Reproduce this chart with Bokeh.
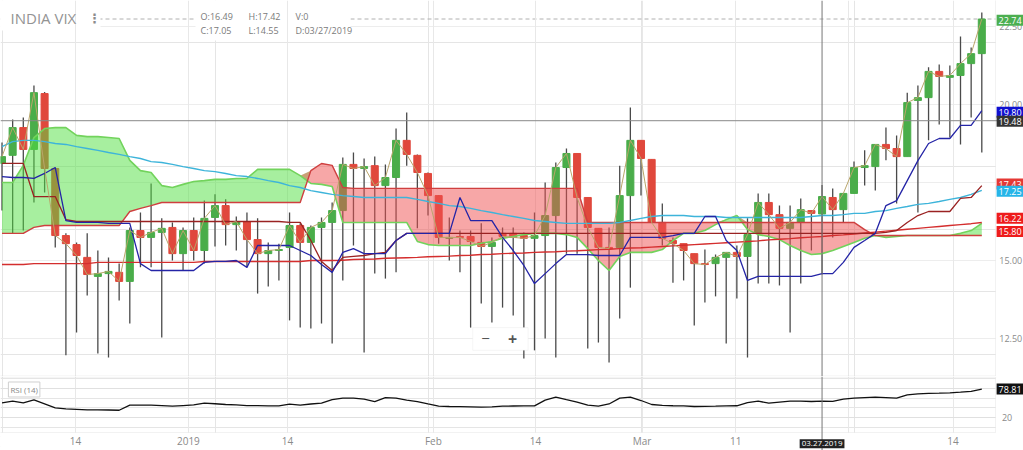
import numpy as np
from bokeh.plotting import figure
from bokeh.layouts import column
from bokeh.models import (ColumnDataSource, Span, Label, BoxAnnotation, FixedTicker,
                          Range1d, Grid)
from bokeh.embed import file_html
from bokeh.resources import INLINE

# ---------------- data ----------------
opens = [18.11, 18.37, 19.26, 18.56, 20.35, 17.95, 15.80, 15.51, 15.10, 14.49,
         14.58, 14.62, 14.33, 15.96, 15.74, 15.90, 16.06, 15.22, 15.96, 15.32,
         16.38, 16.76, 16.15, 16.25, 15.67, 15.22, 15.32, 15.42, 16.12, 15.58,
         16.06, 16.22, 16.60, 18.08, 17.95, 18.04, 17.40, 17.66, 18.85, 18.37,
         17.79, 17.08, 15.71, 15.77, 15.77, 15.58, 15.45, 15.87, 15.87, 15.80,
         15.71, 15.80, 16.44, 17.98, 18.43, 17.02, 16.03, 15.42, 15.42, 17.08,
         18.85, 18.24, 16.22, 15.64, 15.54, 15.22, 14.90, 14.90, 15.10, 15.26,
         15.13, 15.87, 16.86, 16.47, 16.03, 16.22, 16.60, 16.49, 17.02, 16.63,
         17.15, 17.98, 18.01, 18.72, 18.59, 18.33, 20.13, 20.22, 21.06, 20.87,
         20.93, 21.31, 21.63]
highs = [18.78, 19.52, 19.58, 20.61, 20.40, 17.98, 15.87, 15.58, 15.87, 15.32,
         15.10, 14.90, 16.06, 16.54, 17.47, 16.35, 16.22, 16.06, 16.38, 16.92,
         17.12, 16.96, 16.41, 16.54, 16.35, 15.58, 15.54, 16.54, 16.19, 16.12,
         16.38, 16.86, 18.30, 18.46, 18.27, 18.33, 18.08, 19.23, 19.74, 18.40,
         17.82, 17.10, 16.38, 15.96, 15.96, 16.19, 15.74, 16.06, 16.06, 15.90,
         16.54, 17.50, 18.14, 18.59, 18.43, 17.02, 16.03, 16.06, 18.04, 19.90,
         18.85, 18.24, 16.83, 15.74, 15.54, 15.22, 15.35, 15.19, 15.26, 15.48,
         16.35, 17.15, 17.15, 16.76, 16.76, 16.99, 16.60, 17.42, 17.31, 17.15,
         18.17, 18.53, 18.72, 19.26, 19.01, 20.38, 20.61, 21.19, 21.28, 21.25,
         22.18, 21.83, 22.95]
lows = [16.60, 15.87, 15.96, 16.86, 17.18, 15.42, 11.96, 12.69, 13.88, 12.02,
        11.89, 13.72, 12.98, 14.78, 14.78, 12.53, 15.00, 14.68, 15.00, 14.90,
        15.45, 15.48, 15.32, 14.78, 13.94, 14.17, 14.36, 13.08, 12.85, 12.82,
        12.98, 12.34, 14.36, 15.48, 12.05, 14.58, 14.42, 14.62, 18.04, 16.03,
        16.44, 15.54, 15.00, 14.62, 12.85, 13.62, 13.01, 13.49, 13.24, 11.86,
        12.12, 12.50, 11.89, 15.22, 15.22, 12.18, 12.37, 11.73, 13.14, 14.13,
        17.08, 16.22, 15.48, 14.29, 14.36, 12.92, 13.65, 13.85, 12.34, 13.78,
        11.89, 14.26, 14.26, 14.20, 12.69, 14.26, 15.32, 14.55, 15.74, 16.22,
        17.15, 17.40, 17.24, 18.21, 16.83, 18.33, 16.54, 18.85, 19.36, 18.94,
        18.72, 19.58, 18.46]
closes = [18.33, 19.26, 18.56, 20.38, 17.95, 15.80, 15.54, 15.16, 14.55, 14.58,
          14.65, 14.33, 15.96, 15.74, 15.90, 16.03, 15.22, 15.96, 15.32, 16.35,
          16.76, 16.15, 16.25, 15.67, 15.22, 15.32, 15.35, 16.12, 15.58, 16.06,
          16.22, 16.60, 18.08, 17.95, 18.01, 17.40, 17.66, 18.85, 18.40, 17.82,
          17.08, 15.74, 15.74, 15.74, 15.61, 15.45, 15.58, 15.77, 15.74, 15.71,
          15.80, 16.44, 17.98, 18.43, 17.02, 16.06, 15.42, 15.38, 17.08, 18.85,
          18.27, 16.22, 15.71, 15.54, 15.32, 14.90, 14.87, 15.10, 15.26, 15.13,
          15.83, 16.86, 16.47, 16.03, 16.22, 16.63, 16.51, 17.05, 16.63, 17.15,
          17.98, 18.04, 18.72, 18.59, 18.33, 20.06, 20.22, 21.06, 20.90, 20.93,
          21.31, 21.63, 22.74]
tenkan = [17.69, 17.66, 17.66, 17.63, 17.79, 17.98, 16.28, 16.22, 16.22, 16.22,
          16.19, 16.19, 16.19, 14.90, 14.68, 14.68, 14.68, 14.68, 14.68, 14.94,
          14.97, 14.97, 15.00, 14.78, 15.48, 15.48, 15.48, 15.48, 15.32, 15.16,
          14.87, 14.62, 15.26, 15.38, 15.22, 15.22, 15.22, 15.64, 15.87, 15.87,
          15.87, 15.87, 15.87, 17.02, 16.28, 16.28, 16.28, 15.74, 15.32, 14.84,
          14.26, 14.58, 14.90, 15.19, 15.19, 15.19, 15.16, 15.16, 15.16, 15.74,
          15.74, 15.74, 15.74, 15.80, 15.87, 15.87, 16.41, 16.41, 15.64, 15.32,
          14.36, 14.49, 14.49, 14.49, 14.49, 14.49, 14.49, 14.58, 14.58, 14.94,
          15.42, 15.64, 15.87, 16.76, 16.92, 17.56, 18.20, 18.75, 18.91, 18.91,
          19.33, 19.33, 19.80]
kijun = [18.11, 18.11, 18.11, 17.05, 17.05, 17.05, 16.31, 16.25, 16.25, 16.25,
         16.25, 16.25, 16.25, 16.25, 16.25, 16.25, 16.25, 16.25, 16.25, 16.25,
         16.25, 16.25, 16.25, 16.25, 16.25, 16.25, 16.25, 16.22, 16.22, 15.64,
         14.97, 14.68, 15.10, 15.13, 15.16, 15.22, 15.26, 15.64, 15.87, 15.87,
         15.87, 15.87, 15.87, 15.87, 15.87, 15.87, 15.87, 15.87, 15.87, 15.87,
         15.87, 15.87, 15.87, 15.87, 15.87, 15.87, 15.87, 15.87, 15.87, 15.87,
         15.87, 15.87, 15.87, 15.87, 15.87, 15.87, 15.87, 15.87, 15.87, 15.87,
         15.87, 15.87, 15.87, 15.87, 15.87, 15.87, 15.87, 15.87, 15.87, 15.87,
         15.87, 15.87, 15.87, 15.90, 15.96, 16.22, 16.44, 16.57, 16.57, 16.57,
         16.99, 17.02, 17.40]
span_a = [17.50, 17.50, 18.05, 18.94, 19.23, 19.26, 19.26, 19.01, 18.97, 18.97,
          18.94, 18.91, 18.21, 17.88, 17.82, 17.40, 17.34, 17.44, 17.53, 17.56,
          17.60, 17.60, 17.63, 17.63, 17.92, 17.92, 17.92, 17.92, 17.72, 17.47,
          17.44, 17.37, 16.22, 16.22, 16.22, 16.22, 16.22, 16.22, 16.22, 15.61,
          15.51, 15.48, 15.48, 15.48, 15.48, 15.55, 15.61, 15.71, 15.77, 15.83,
          15.87, 15.87, 15.87, 15.83, 15.74, 15.38, 15.00, 14.68, 15.13, 15.26,
          15.26, 15.26, 15.35, 15.64, 15.87, 15.87, 15.96, 16.15, 16.31, 16.44,
          15.99, 15.83, 15.77, 15.67, 15.48, 15.32, 15.19, 15.22, 15.32, 15.45,
          15.58, 15.71, 15.80, 15.74, 15.77, 15.80, 15.80, 15.80, 15.80, 15.80,
          15.87, 15.96, 16.19]
span_b = [15.87, 15.87, 15.87, 16.06, 16.12, 16.12, 16.12, 16.12, 16.12, 16.12,
          16.12, 16.12, 16.57, 16.67, 16.76, 16.86, 16.86, 16.86, 16.86, 16.86,
          16.86, 16.86, 16.86, 16.86, 16.86, 16.86, 16.86, 16.86, 16.86, 17.88,
          18.11, 18.05, 17.34, 17.31, 17.31, 17.31, 17.31, 17.31, 17.31, 17.31,
          17.31, 17.31, 17.31, 17.31, 17.31, 17.31, 17.31, 17.31, 17.31, 17.31,
          17.31, 17.31, 17.31, 17.31, 17.31, 16.22, 16.22, 16.22, 16.22, 16.22,
          16.22, 16.22, 16.22, 16.22, 16.22, 16.22, 16.22, 16.22, 16.22, 16.22,
          16.22, 16.22, 16.22, 16.22, 16.22, 16.22, 16.22, 16.22, 16.22, 16.22,
          16.22, 15.99, 15.80, 15.80, 15.80, 15.80, 15.80, 15.80, 15.80, 15.80,
          15.80, 15.80, 15.80]
ma_cyan = [18.65, 18.81, 18.85, 18.85, 18.81, 18.75, 18.72, 18.65, 18.59, 18.53,
           18.46, 18.40, 18.33, 18.27, 18.17, 18.14, 18.08, 18.01, 17.95, 17.88,
           17.85, 17.79, 17.72, 17.69, 17.63, 17.56, 17.50, 17.40, 17.34, 17.24,
           17.18, 17.12, 17.08, 17.05, 17.02, 17.02, 17.02, 17.02, 17.02, 16.96,
           16.89, 16.83, 16.76, 16.73, 16.67, 16.60, 16.54, 16.47, 16.41, 16.35,
           16.28, 16.25, 16.22, 16.19, 16.19, 16.19, 16.19, 16.19, 16.22, 16.28,
           16.35, 16.41, 16.44, 16.44, 16.44, 16.41, 16.41, 16.41, 16.38, 16.38,
           16.38, 16.38, 16.38, 16.38, 16.38, 16.38, 16.41, 16.44, 16.44, 16.47,
           16.51, 16.51, 16.57, 16.60, 16.67, 16.73, 16.80, 16.83, 16.89, 16.96,
           17.02, 17.12, 17.25]
ma_red = [14.87, 14.87, 14.87, 14.90, 14.90, 14.90, 14.90, 14.90, 14.90, 14.94,
          14.94, 14.94, 14.94, 14.94, 14.94, 14.94, 14.94, 14.94, 14.94, 14.97,
          14.97, 14.97, 14.97, 14.97, 14.97, 14.97, 14.97, 14.97, 14.97, 15.00,
          15.00, 15.00, 15.01, 15.03, 15.04, 15.05, 15.07, 15.08, 15.09, 15.10,
          15.12, 15.13, 15.14, 15.16, 15.17, 15.19, 15.20, 15.22, 15.23, 15.24,
          15.26, 15.27, 15.28, 15.30, 15.31, 15.33, 15.35, 15.36, 15.38, 15.40,
          15.41, 15.43, 15.45, 15.47, 15.49, 15.51, 15.53, 15.55, 15.57, 15.59,
          15.61, 15.63, 15.66, 15.68, 15.70, 15.73, 15.75, 15.77, 15.80, 15.82,
          15.85, 15.88, 15.91, 15.94, 15.97, 16.00, 16.03, 16.06, 16.09, 16.12,
          16.15, 16.18, 16.22]
rsi = [50.4, 53.8, 50.4, 56.6, 48.3, 40.0, 38.0, 37.0, 36.0, 35.8,
       35.5, 35.0, 45.6, 45.6, 45.6, 44.5, 43.4, 44.8, 46.0, 49.7,
       48.5, 46.9, 46.0, 44.8, 44.5, 44.2, 44.1, 47.6, 45.6, 48.0,
       49.7, 57.0, 60.0, 60.0, 58.0, 53.1, 61.0, 60.0, 56.0, 53.1,
       48.0, 43.4, 42.8, 42.5, 42.0, 41.4, 42.0, 43.4, 43.8, 44.0,
       44.1, 56.0, 62.1, 57.0, 52.0, 45.6, 43.4, 48.0, 60.0, 62.1,
       55.2, 46.9, 45.0, 44.3, 44.1, 42.8, 43.0, 43.5, 44.1, 44.3,
       51.0, 53.8, 49.7, 52.0, 53.8, 54.0, 53.1, 54.0, 53.5, 58.0,
       60.0, 61.0, 62.0, 61.0, 60.0, 67.0, 69.0, 70.0, 70.4, 71.0,
       72.4, 74.0, 78.81]
tick_idx = [6.9, 17.5, 26.8, 40.5, 50.1, 60.1, 68.9, 79.5, 89.3]
tick_labels = ["14", "2019", "14", "Feb", "14", "Mar", "11", "", "14"]
price_ticks = [12.5, 15.0, 17.5, 20.0, 22.5]
price_tick_labels = ["12.50", "15.00", "17.50", "20.00", "22.50"]
rsi_ticks = [20, 80]
cross_idx = 77
cross_price = 19.48
cross_date = "03.27.2019"
ohlc_text = ["O:16.49", "H:17.42", "V:0", "C:17.05", "L:14.55", "D:03/27/2019"]
# right-edge value tags: (value, text, colour)
tags = [(22.70, "22.74", "#4caf50"), (19.75, "19.80", "#1010d0"), (19.46, "19.48", "#333333"),
        (17.45, "17.43", "#e53935"), (17.22, "17.25", "#26b5e8"), (16.35, "16.22", "#ee1c1c"),
        (15.93, "15.80", "#ee1c1c")]

FONT = "Open Sans"
N = len(closes)
idx = np.arange(N)
o = np.array(opens); c = np.array(closes)
up = c >= o
col_body = np.where(up, "#4aad4a", "#e0483c")
src = ColumnDataSource(dict(x=idx, o=o, h=highs, l=lows, c=c,
                            top=np.maximum(o, c), bot=np.minimum(o, c), col=col_body))
a = np.array(span_a); b = np.array(span_b)
csrc = ColumnDataSource(dict(x=idx, a=a, b=b, top=np.maximum(a, b)))

AX = 93.29          # index where the right axis line sits
XR = Range1d(-0.141, 95.915)

# ---------------- price panel ----------------
p = figure(frame_width=1023, frame_height=376, x_range=XR, y_range=Range1d(11.282, 23.333),
           output_backend="svg", toolbar_location=None, x_axis_location=None,
           y_axis_location=None, min_border=0, outline_line_color=None,
           background_fill_color="white", border_fill_color="white")
p.add_layout(Grid(dimension=1, ticker=FixedTicker(ticks=price_ticks), grid_line_color="#ededed"))
p.add_layout(Span(location=closes[-1], dimension="width", line_color="#b0b0b0",
                  line_dash="4 3", line_width=1, level="underlay"))
p.add_layout(BoxAnnotation(left=-1, right=9.25, bottom=22.37, top=24,
                           fill_color="white", fill_alpha=1, line_color=None, level="underlay"))
p.add_layout(BoxAnnotation(left=18.17, right=32.72, bottom=22.05, top=24,
                           fill_color="white", fill_alpha=1, line_color=None, level="underlay"))
p.add_layout(BoxAnnotation(left=AX, right=97, fill_color="white", fill_alpha=1,
                           line_color=None, level="underlay"))
p.add_layout(Grid(dimension=0, ticker=FixedTicker(ticks=tick_idx), grid_line_color="#e8e8e8"))
p.add_layout(BoxAnnotation(left=-1, right=AX, bottom=11.298, top=24, fill_alpha=0,
                           line_color="#cfcfcf", line_width=1, level="underlay"))

# candles
p.segment(x0="x", y0="l", x1="x", y1="h", source=src, line_color="#4a4a4a", line_width=1.3)
p.vbar(x="x", top="top", bottom="bot", width=0.66, source=src, fill_color="col", line_color="col")

# cloud drawn over candles (translucent)
p.varea(x="x", y1="b", y2="top", source=csrc, fill_color="#50e040", fill_alpha=0.5)
p.varea(x="x", y1="a", y2="top", source=csrc, fill_color="#f05050", fill_alpha=0.5)
p.line(idx, span_a, line_color="#72d35c", line_width=1.6)
p.line(idx, span_b, line_color="#cf3f3f", line_width=1.4)

# indicator lines
p.line(idx, ma_red, line_color="#d42e2e", line_width=1.4)
p.line(idx, ma_cyan, line_color="#3db4da", line_width=1.4)
p.line(idx, kijun, line_color="#9a2222", line_width=1.3)
p.line(idx, tenkan, line_color="#2424a6", line_width=1.3)
p.line(idx, closes, line_color="#b9a56a", line_width=1)

# crosshair
p.add_layout(Span(location=cross_idx, dimension="height", line_color="#777777", line_width=1))
p.add_layout(Span(location=cross_price, dimension="width", line_color="#888888", line_width=1))

# y tick labels on the right
for v, t in zip(price_ticks, price_tick_labels):
    p.add_layout(Label(x=AX + 0.35, y=v, text=t, text_font=FONT, text_font_size="9px",
                       text_color="#8a8a8a", text_baseline="middle"))

# header texts
p.add_layout(Label(x=0.8, y=22.76, text="INDIA VIX", text_font=FONT, text_font_size="15px",
                   text_color="#939393", text_baseline="middle"))
p.add_layout(Label(x=8.1, y=22.76, text="\u22ee", text_font="DejaVu Sans", text_font_size="13px",
                   text_color="#8c8c8c", text_baseline="middle", text_font_style="bold"))
hx = [18.64, 23.15, 27.56]
for k, t in enumerate(ohlc_text):
    p.add_layout(Label(x=hx[k % 3], y=22.82 if k < 3 else 22.37, text=t, text_font=FONT,
                       text_font_size="9px", text_color="#7a7a7a", text_baseline="middle"))

# zoom buttons
p.add_layout(BoxAnnotation(left=44.2, right=49.4, bottom=12.12, top=12.85, fill_color="white",
                           fill_alpha=1, line_color="#e2e2e2", level="overlay"))
p.add_layout(Label(x=45.4, y=12.48, text="\u2212", text_font=FONT, text_font_size="15px",
                   text_color="#555555", text_baseline="middle", text_align="center", level="overlay"))
p.add_layout(Label(x=47.95, y=12.48, text="+", text_font=FONT, text_font_size="16px",
                   text_color="#555555", text_baseline="middle", text_align="center", level="overlay",
                   text_font_style="bold"))


def tag(fig, y, text, bg, fg="white"):
    fig.add_layout(Label(x=AX + 0.1, y=y, text=text, text_font=FONT, text_font_size="9px",
                         text_color=fg, text_baseline="middle", background_fill_color=bg,
                         background_fill_alpha=1, padding=2, level="overlay"))


for v, t, colr in tags:
    tag(p, v, t, colr)

# ---------------- RSI panel ----------------
r = figure(frame_width=1023, frame_height=74, x_range=XR, y_range=Range1d(-48.3, 104.9),
           output_backend="svg", toolbar_location=None, x_axis_location=None,
           y_axis_location=None, min_border=0, outline_line_color=None,
           background_fill_color="white", border_fill_color="white")
r.add_layout(Grid(dimension=0, ticker=FixedTicker(ticks=tick_idx), grid_line_color="#e8e8e8"))
r.add_layout(Grid(dimension=1, ticker=FixedTicker(ticks=rsi_ticks), grid_line_color="#e0e0e0"))
r.add_layout(BoxAnnotation(bottom=-60, top=-11.1, left=-1, right=97, fill_color="white",
                           fill_alpha=1, line_color=None, level="underlay"))
r.add_layout(BoxAnnotation(left=AX, right=97, fill_color="white", fill_alpha=1,
                           line_color=None, level="underlay"))
r.add_layout(BoxAnnotation(left=-1, right=AX, bottom=-11.1, top=103.5, fill_alpha=0,
                           line_color="#cfcfcf", line_width=1, level="underlay"))
r.line(idx, rsi, line_color="#111111", line_width=1.3)
r.add_layout(Span(location=cross_idx, dimension="height", line_color="#777777", line_width=1))
for v in rsi_ticks:
    r.add_layout(Label(x=AX + 0.6, y=v, text=str(v), text_font=FONT, text_font_size="9px",
                       text_color="#8a8a8a", text_baseline="middle"))
for t, lab in zip(tick_idx, tick_labels):
    if lab:
        r.add_layout(Label(x=t, y=-27.6, text=lab, text_font=FONT, text_font_size="10px",
                           text_color="#8a8a8a", text_baseline="middle", text_align="center"))
r.add_layout(Label(x=0.6, y=78, text="RSI (14)", text_font=FONT, text_font_size="8px",
                   text_color="#888888", text_baseline="middle", background_fill_color="white",
                   border_line_color="#d0d0d0", padding=2))
tag(r, rsi[-1], "78.81", "#111111")
r.add_layout(Label(x=cross_idx, y=-34.5, text=cross_date, text_font=FONT, text_font_size="8px",
                   text_color="white", text_baseline="middle", text_align="center",
                   background_fill_color="#222222", padding=2, level="overlay"))

layout = column(p, r, spacing=0)
open("out.html", "w").write(file_html(layout, INLINE))
